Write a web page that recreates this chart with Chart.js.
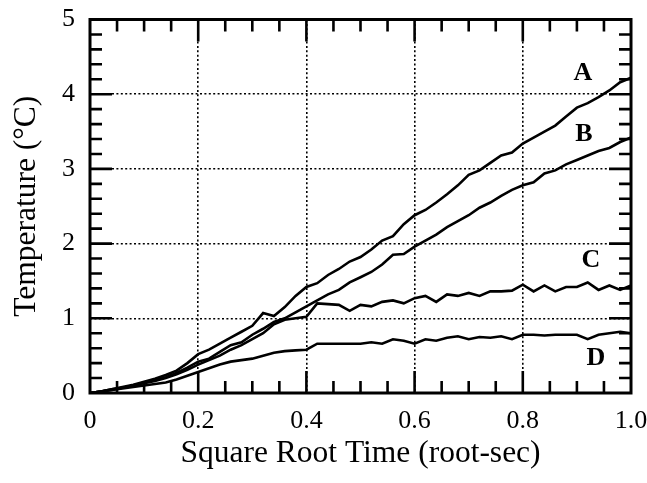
<!DOCTYPE html>
<html>
<head>
<meta charset="utf-8">
<script src="https://cdn.jsdelivr.net/npm/chart.js@4/dist/chart.umd.min.js"></script>
<style>
  html, body { margin: 0; padding: 0; background: #fff; }
  #wrap { width: 647px; height: 483px; position: relative; }
</style>
</head>
<body>
<div id="wrap"><canvas id="c" width="647" height="483"></canvas></div>
<script>
// x values: square root time (root-sec)
const xValues = [0.00,0.02,0.04,0.06,0.08,0.10,0.12,0.14,0.16,0.18,0.20,0.22,0.24,0.26,0.28,0.30,0.32,0.34,0.36,0.38,0.40,0.42,0.44,0.46,0.48,0.50,0.52,0.54,0.56,0.58,0.60,0.62,0.64,0.66,0.68,0.70,0.72,0.74,0.76,0.78,0.80,0.82,0.84,0.86,0.88,0.90,0.92,0.94,0.96,0.98,1.00];
// Temperature (°C) series
const seriesA = [0.00,0.02,0.05,0.08,0.11,0.15,0.19,0.24,0.30,0.40,0.52,0.58,0.66,0.74,0.82,0.90,1.07,1.03,1.15,1.30,1.42,1.47,1.58,1.66,1.76,1.82,1.92,2.04,2.10,2.26,2.38,2.45,2.55,2.66,2.78,2.92,2.98,3.08,3.18,3.22,3.34,3.42,3.50,3.58,3.70,3.82,3.88,3.96,4.05,4.16,4.22];
const seriesB = [0.00,0.02,0.05,0.07,0.10,0.14,0.17,0.21,0.27,0.34,0.42,0.46,0.55,0.64,0.68,0.78,0.86,0.95,1.00,1.08,1.16,1.24,1.32,1.38,1.48,1.55,1.62,1.72,1.85,1.86,1.96,2.04,2.12,2.22,2.30,2.38,2.48,2.55,2.64,2.72,2.78,2.82,2.94,2.98,3.06,3.12,3.18,3.24,3.28,3.36,3.42];
const seriesC = [0.00,0.02,0.04,0.07,0.10,0.13,0.16,0.20,0.25,0.31,0.38,0.44,0.50,0.58,0.64,0.72,0.80,0.92,0.98,1.00,1.02,1.20,1.19,1.18,1.10,1.18,1.16,1.22,1.24,1.20,1.27,1.30,1.22,1.32,1.30,1.34,1.30,1.36,1.36,1.37,1.45,1.36,1.44,1.36,1.42,1.42,1.48,1.38,1.44,1.38,1.44];
const seriesD = [0.00,0.02,0.04,0.06,0.08,0.10,0.12,0.14,0.18,0.23,0.28,0.33,0.38,0.42,0.44,0.46,0.50,0.54,0.56,0.57,0.58,0.66,0.66,0.66,0.66,0.66,0.68,0.66,0.72,0.70,0.66,0.72,0.70,0.74,0.76,0.72,0.75,0.74,0.76,0.72,0.78,0.78,0.77,0.78,0.78,0.78,0.72,0.78,0.80,0.82,0.80];
const seriesNames = ["A","B","C","D"];
// curve label anchor points in data coordinates
const labelX = [0.911, 0.913, 0.926, 0.935];
const labelY = [4.28, 3.47, 1.77, 0.47];
const xTickValues = [0, 0.2, 0.4, 0.6, 0.8, 1.0];
const yTickValues = [0, 1, 2, 3, 4, 5];

const toPts = ys => ys.map((y, i) => ({x: xValues[i], y}));
const allSeries = [seriesA, seriesB, seriesC, seriesD];

const frameTicks = {
  id: 'frameTicks',
  afterDatasetsDraw(chart) {
    const {ctx, chartArea: a, scales: {x, y}} = chart;
    ctx.save();
    ctx.strokeStyle = '#000';
    ctx.lineCap = 'butt';
    ctx.lineWidth = 2.6;
    for (let k = 1; k < 20; k++) {
      const v = k * 0.05;
      const px = x.getPixelForValue(v);
      const major = (k % 4 === 0);
      const len = major ? 22 : 12;
      ctx.beginPath();
      ctx.moveTo(px, a.bottom); ctx.lineTo(px, a.bottom - len);
      ctx.moveTo(px, a.top); ctx.lineTo(px, a.top + len);
      ctx.stroke();
    }
    for (let k = 1; k < 25; k++) {
      const v = k * 0.2;
      const py = y.getPixelForValue(v);
      const major = (k % 5 === 0);
      const len = major ? 22 : 12;
      ctx.beginPath();
      ctx.moveTo(a.left, py); ctx.lineTo(a.left + len, py);
      ctx.moveTo(a.right, py); ctx.lineTo(a.right - len, py);
      ctx.stroke();
    }
    ctx.lineWidth = 3;
    ctx.strokeRect(a.left, a.top, a.right - a.left, a.bottom - a.top);
    ctx.fillStyle = '#000';
    ctx.font = 'bold 26px "Liberation Serif"';
    ctx.textAlign = 'center';
    ctx.textBaseline = 'middle';
    seriesNames.forEach((n, i) => {
      ctx.fillText(n, x.getPixelForValue(labelX[i]), y.getPixelForValue(labelY[i]));
    });
    ctx.restore();
  }
};

new Chart(document.getElementById('c'), {
  type: 'line',
  data: {
    datasets: allSeries.map((s, i) => ({
      label: seriesNames[i],
      data: toPts(s),
      borderColor: '#000',
      borderWidth: 2.6,
      pointRadius: 0,
      tension: 0,
      fill: false
    }))
  },
  options: {
    responsive: false,
    animation: false,
    layout: { padding: { left: 0, right: 16, top: 19.5, bottom: 0 } },
    plugins: { legend: { display: false }, tooltip: { enabled: false } },
    scales: {
      x: {
        type: 'linear', min: 0, max: 1,
        afterFit(s) { s.height = 90; s.paddingLeft = 0; s.paddingRight = 0; },
        afterBuildTicks(s) { s.ticks = xTickValues.map(v => ({value: v})); },
        ticks: {
          color: '#000', padding: 13, maxRotation: 0, autoSkip: false,
          font: { family: 'Liberation Serif', size: 26 },
          callback: v => (v === 0 ? '0' : v.toFixed(1))
        },
        grid: { color: '#000', lineWidth: 1.6, drawTicks: false },
        border: { display: false, dash: [2, 2.4] },
        title: {
          display: true, text: 'Square Root Time (root-sec)', color: '#000',
          font: { family: 'Liberation Serif', size: 31.5, lineHeight: 1 },
          padding: { top: 0, bottom: 14 }
        }
      },
      y: {
        type: 'linear', min: 0, max: 5,
        afterFit(s) { s.width = 90; s.paddingTop = 0; s.paddingBottom = 0; },
        afterBuildTicks(s) { s.ticks = yTickValues.map(v => ({value: v})); },
        ticks: {
          color: '#000', padding: 15,
          font: { family: 'Liberation Serif', size: 26 },
          callback: v => String(v)
        },
        grid: { color: '#000', lineWidth: 1.6, drawTicks: false },
        border: { display: false, dash: [2, 2.4] },
        title: {
          display: true, text: 'Temperature (°C)', color: '#000',
          font: { family: 'Liberation Serif', size: 31.5, lineHeight: 1 },
          padding: { top: 11, bottom: 0 }
        }
      }
    }
  },
  plugins: [frameTicks]
});
</script>
</body>
</html>
